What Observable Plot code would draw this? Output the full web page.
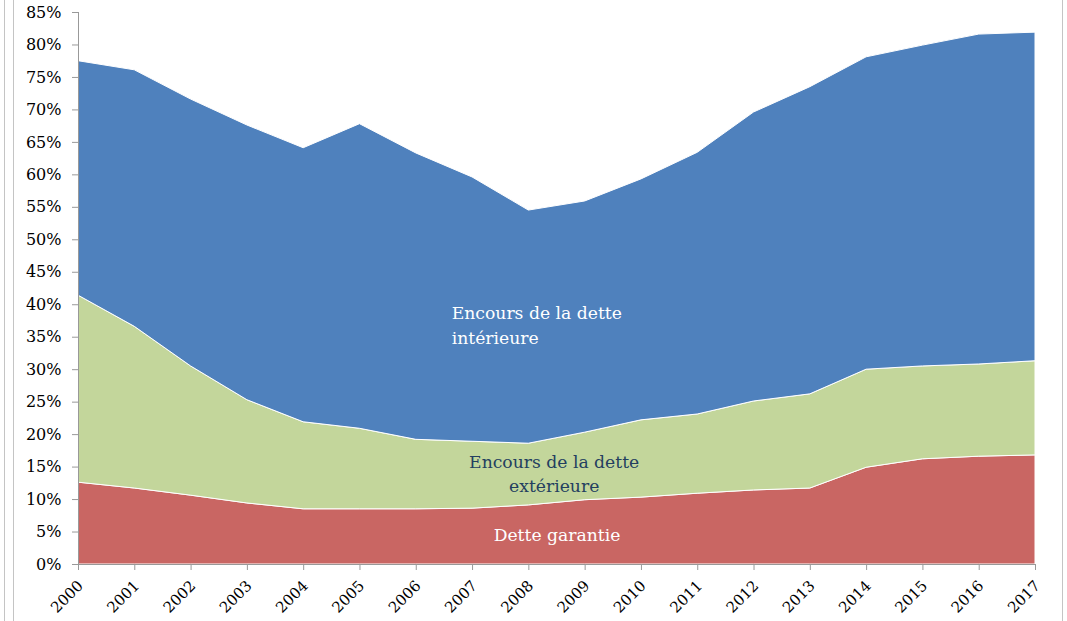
<!DOCTYPE html>
<html><head><meta charset="utf-8">
<script src="https://cdn.jsdelivr.net/npm/d3@7"></script>
<script src="https://cdn.jsdelivr.net/npm/@observablehq/plot@0.6"></script>
<style>
body{margin:0;background:#fff;}
#wrap{position:relative;width:1067px;height:621px;overflow:hidden;}
#wrap svg{position:absolute;left:0;top:0;}
.vl{position:absolute;top:0;bottom:0;width:1px;background:#c4c4c4;}
</style></head><body>
<div id="wrap"></div>
<script>
const years = [2000,2001,2002,2003,2004,2005,2006,2007,2008,2009,2010,2011,2012,2013,2014,2015,2016,2017];
const detteGarantie   = [12.6,11.7,10.6,9.4,8.5,8.5,8.5,8.6,9.1,9.9,10.3,10.9,11.4,11.7,14.9,16.2,16.6,16.8];
const detteExterieure = [28.8,24.9,19.9,15.9,13.4,12.4,10.7,10.3,9.5,10.4,11.9,12.2,13.7,14.5,15.1,14.3,14.2,14.5];
const detteInterieure = [36.1,39.5,41.1,42.3,42.2,46.9,44.1,40.7,35.9,35.6,37.1,40.3,44.5,47.3,48.1,49.4,50.8,50.6];
const seriesNames = ["Dette garantie","Encours de la dette extérieure","Encours de la dette intérieure"];
const seriesColors = ["#C96663","#C3D69B","#4F81BD"];
const yTicks = [0,5,10,15,20,25,30,35,40,45,50,55,60,65,70,75,80,85];

const seriesValues = [detteGarantie, detteExterieure, detteInterieure];
const rows = [];
years.forEach((yr, i) => {
  seriesNames.forEach((name, k) => rows.push({year: yr, serie: name, value: seriesValues[k][i]}));
});

const FF = "DejaVu Serif";
const chart = Plot.plot({
  width: 1067,
  height: 621,
  marginLeft: 78,
  marginTop: 12,
  marginBottom: 57,
  marginRight: 32,
  style: "font-family: 'DejaVu Serif', serif; font-size: 16px; color: #000; background: transparent;",
  x: {type: "linear", domain: [2000, 2017]},
  y: {domain: [0, 85]},
  color: {domain: seriesNames, range: seriesColors},
  marks: [
    Plot.areaY(rows, {x: "year", y: "value", fill: "serie", stroke: "white", strokeWidth: 1, order: null}),
    Plot.ruleY([0], {stroke: "#999"}),
    Plot.ruleX([2000], {stroke: "#999"}),
    Plot.axisY({ticks: yTicks, tickFormat: d => d + "%", tickSize: 6, tickPadding: 11, stroke: "#999", fill: "#000", label: null, fontSize: 16, fontFamily: FF}),
    Plot.axisX({ticks: years, tickFormat: () => "", tickSize: 6, stroke: "#999", label: null}),
    Plot.axisX({ticks: years, tickFormat: d => String(d), tickSize: 0, tickRotate: -45, fill: "#000", label: null, fontSize: 15, fontFamily: FF, dy: 7, dx: 2}),
    Plot.text(["Encours de la dette\nintérieure"], {x: 2006.63, y: 37.14, text: d => d, textAnchor: "start", lineAnchor: "middle", lineHeight: 1.45, fill: "white", fontSize: 17.2, fontFamily: FF}),
    Plot.text(["Encours de la dette\nextérieure"], {x: 2008.45, y: 14.27, text: d => d, textAnchor: "middle", lineAnchor: "middle", lineHeight: 1.4, fill: "#243F60", fontSize: 17.2, fontFamily: FF}),
    Plot.text(["Dette garantie"], {x: 2008.5, y: 4.4, text: d => d, textAnchor: "middle", fill: "white", fontSize: 17.2, fontFamily: FF})
  ]
});
const wrap = document.getElementById("wrap");
wrap.appendChild(chart);
[4, 13, 1062].forEach(x => {
  const d = document.createElement("div");
  d.className = "vl"; d.style.left = x + "px";
  wrap.appendChild(d);
});
</script>
</body></html>
